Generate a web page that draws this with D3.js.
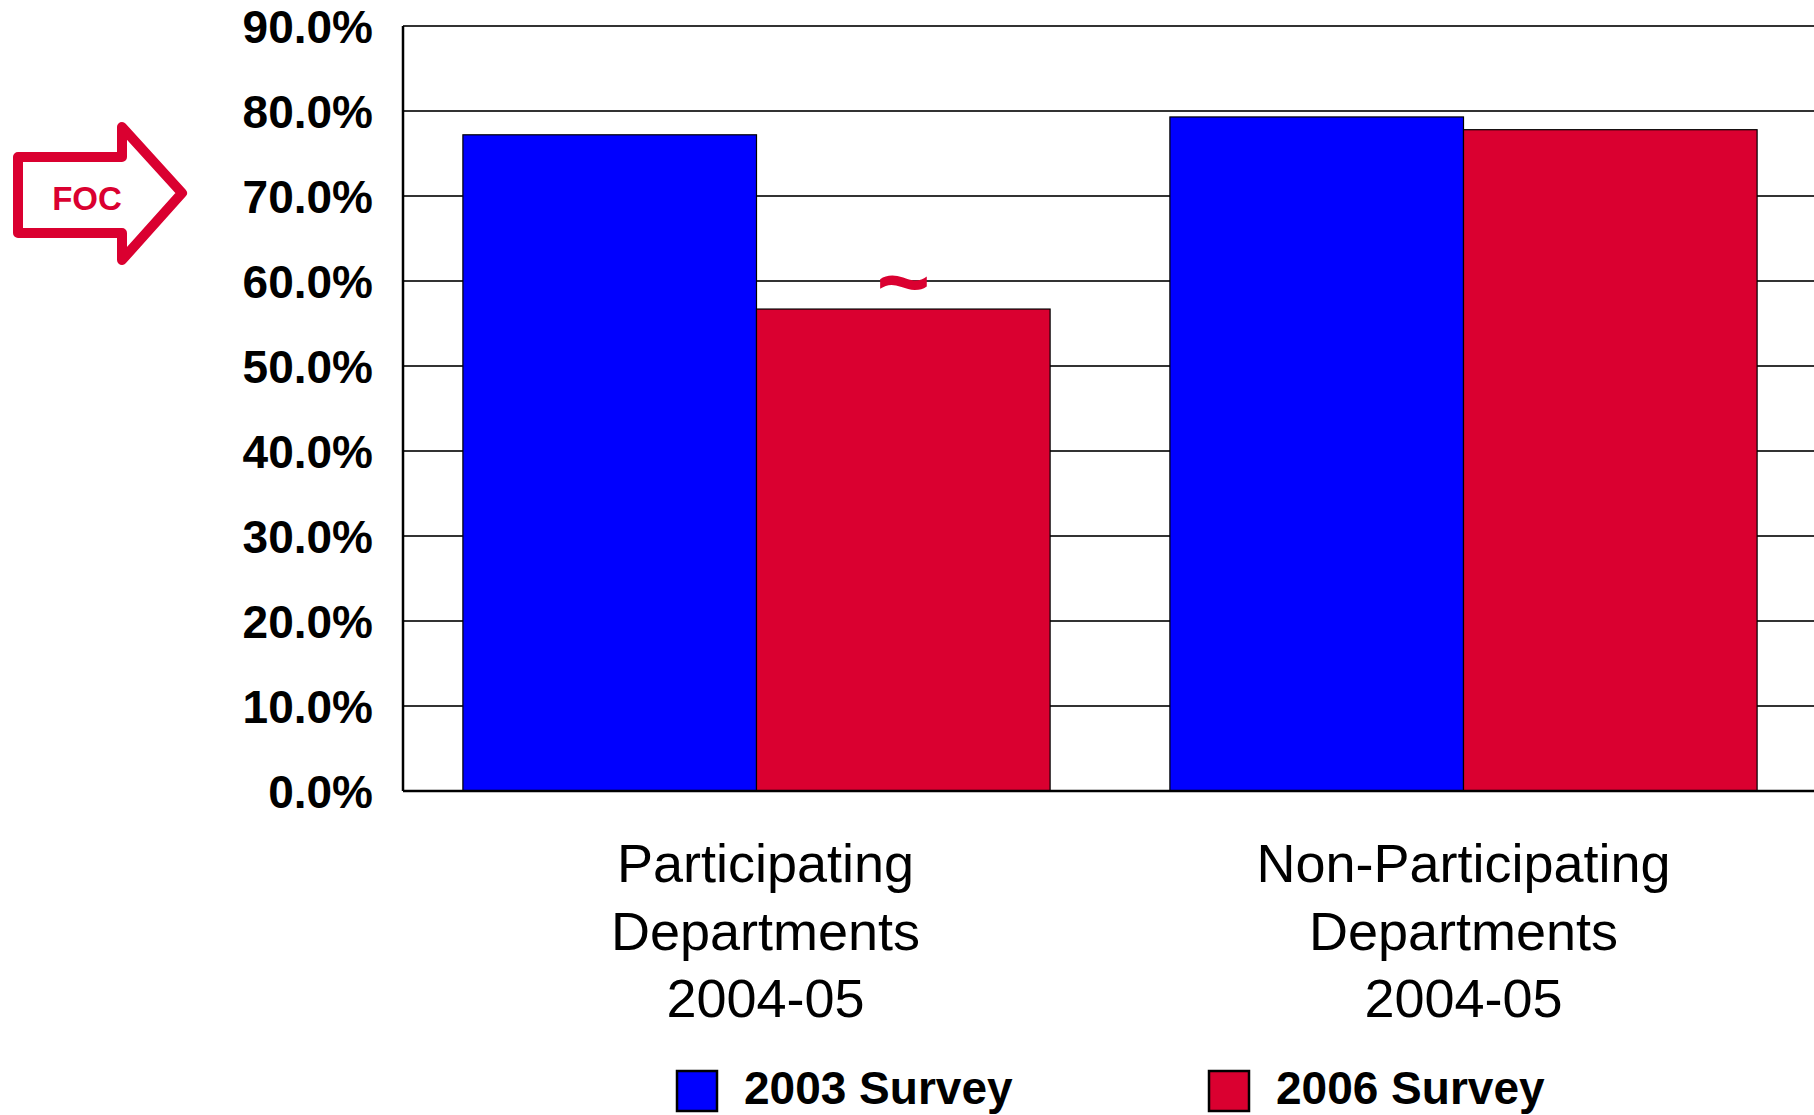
<!DOCTYPE html>
<html>
<head>
<meta charset="utf-8">
<script src="https://cdn.jsdelivr.net/npm/d3@7"></script>
<style>
  body { margin: 0; background: #fff; }
  svg { display: block; }
</style>
</head>
<body>
<div id="chart"></div>
<script>
const categories = [
  ['Participating', 'Departments', '2004-05'],
  ['Non-Participating', 'Departments', '2004-05']
];
const series = ['2003 Survey', '2006 Survey'];
const values2003 = [77.2, 79.3];
const values2006 = [56.7, 77.8];
const yTicks = [0, 10, 20, 30, 40, 50, 60, 70, 80, 90];
const colors = ['#0000ff', '#da0030'];

const WIDTH = 1814, HEIGHT = 1115;
const M = { top: 26, right: -3, bottom: 324, left: 403 };

const svg = d3.select('#chart').append('svg')
  .attr('width', WIDTH).attr('height', HEIGHT);

const x0 = d3.scaleBand()
  .domain(d3.range(categories.length))
  .range([M.left, WIDTH - M.right])
  .padding(0);

const x1 = d3.scaleBand()
  .domain(series)
  .range([0, x0.bandwidth()])
  .paddingInner(0)
  .paddingOuter(0.204);

const y = d3.scaleLinear()
  .domain([0, 90])
  .range([HEIGHT - M.bottom, M.top]);

// gridlines
svg.append('g')
  .selectAll('line')
  .data(yTicks.filter(d => d > 0))
  .join('line')
    .attr('x1', M.left).attr('x2', WIDTH)
    .attr('y1', d => y(d)).attr('y2', d => y(d))
    .attr('stroke', '#333').attr('stroke-width', 2);

// bars
const rows = categories.map((c, i) => [values2003[i], values2006[i]]);
const groups = svg.append('g')
  .selectAll('g')
  .data(rows)
  .join('g')
    .attr('transform', (d, i) => `translate(${x0(i)},0)`);

groups.selectAll('rect')
  .data(d => d.map((v, j) => ({ key: series[j], v, j })))
  .join('rect')
    .attr('x', d => x1(d.key))
    .attr('width', x1.bandwidth())
    .attr('y', d => y(d.v))
    .attr('height', d => y(0) - y(d.v))
    .attr('fill', d => colors[d.j])
    .attr('stroke', '#000').attr('stroke-width', 1.2);

// significance mark
svg.append('text')
  .attr('x', x0(0) + x1(series[1]) + x1.bandwidth() / 2)
  .attr('y', y(values2006[0]) + 4)
  .attr('text-anchor', 'middle')
  .attr('font-family', 'Liberation Sans, Arial, sans-serif')
  .attr('font-weight', 'bold')
  .attr('font-size', 92)
  .attr('fill', colors[1])
  .text('~');

// axes lines
svg.append('line')
  .attr('x1', M.left).attr('x2', M.left)
  .attr('y1', y(90)).attr('y2', y(0))
  .attr('stroke', '#000').attr('stroke-width', 2.5);
svg.append('line')
  .attr('x1', M.left).attr('x2', WIDTH)
  .attr('y1', y(0)).attr('y2', y(0))
  .attr('stroke', '#000').attr('stroke-width', 2.5);

// y tick labels
const yAxis = svg.append('g')
  .attr('transform', `translate(${M.left - 30},0)`)
  .call(d3.axisLeft(y).tickValues(yTicks).tickSize(0).tickPadding(0)
    .tickFormat(d => d.toFixed(1) + '%'));
yAxis.select('.domain').remove();
yAxis.selectAll('text')
  .attr('font-family', 'Liberation Sans, Arial, sans-serif')
  .attr('font-weight', 'bold')
  .attr('font-size', 46)
  .attr('fill', '#000')
  .attr('dy', '0.36em');

// category labels
const catLabels = svg.append('g')
  .selectAll('text')
  .data(categories)
  .join('text')
    .attr('x', (d, i) => x0(i) + x0.bandwidth() / 2 + (i === 0 ? 9 : 0))
    .attr('y', 882)
    .attr('text-anchor', 'middle')
    .attr('font-family', 'Liberation Sans, Arial, sans-serif')
    .attr('font-size', 54)
    .attr('fill', '#000');
catLabels.selectAll('tspan')
  .data(d => d)
  .join('tspan')
    .attr('x', function() { return d3.select(this.parentNode).attr('x'); })
    .attr('dy', (d, i) => i === 0 ? 0 : 67.5)
    .text(d => d);

// legend
const legendX = [677, 1209];
const legend = svg.append('g')
  .selectAll('g')
  .data(series)
  .join('g')
    .attr('transform', (d, i) => `translate(${legendX[i]},1071)`);
legend.append('rect')
  .attr('width', 40).attr('height', 40)
  .attr('fill', (d, i) => colors[i])
  .attr('stroke', '#000').attr('stroke-width', 2.5);
legend.append('text')
  .attr('x', 67).attr('y', 33)
  .attr('font-family', 'Liberation Sans, Arial, sans-serif')
  .attr('font-weight', 'bold')
  .attr('font-size', 46)
  .attr('fill', '#000')
  .text(d => d);

// FOC arrow callout
const arrow = svg.append('g');
arrow.append('path')
  .attr('d', d3.line()([[18, 157], [122, 157], [122, 127], [182, 193], [122, 260], [122, 233], [18, 233]]) + 'Z')
  .attr('fill', 'none')
  .attr('stroke', '#da0030')
  .attr('stroke-width', 10)
  .attr('stroke-linejoin', 'round');
arrow.append('text')
  .attr('x', 87).attr('y', 210)
  .attr('text-anchor', 'middle')
  .attr('font-family', 'Liberation Sans, Arial, sans-serif')
  .attr('font-weight', 'bold')
  .attr('font-size', 33)
  .attr('fill', '#da0030')
  .text('FOC');
</script>
</body>
</html>
